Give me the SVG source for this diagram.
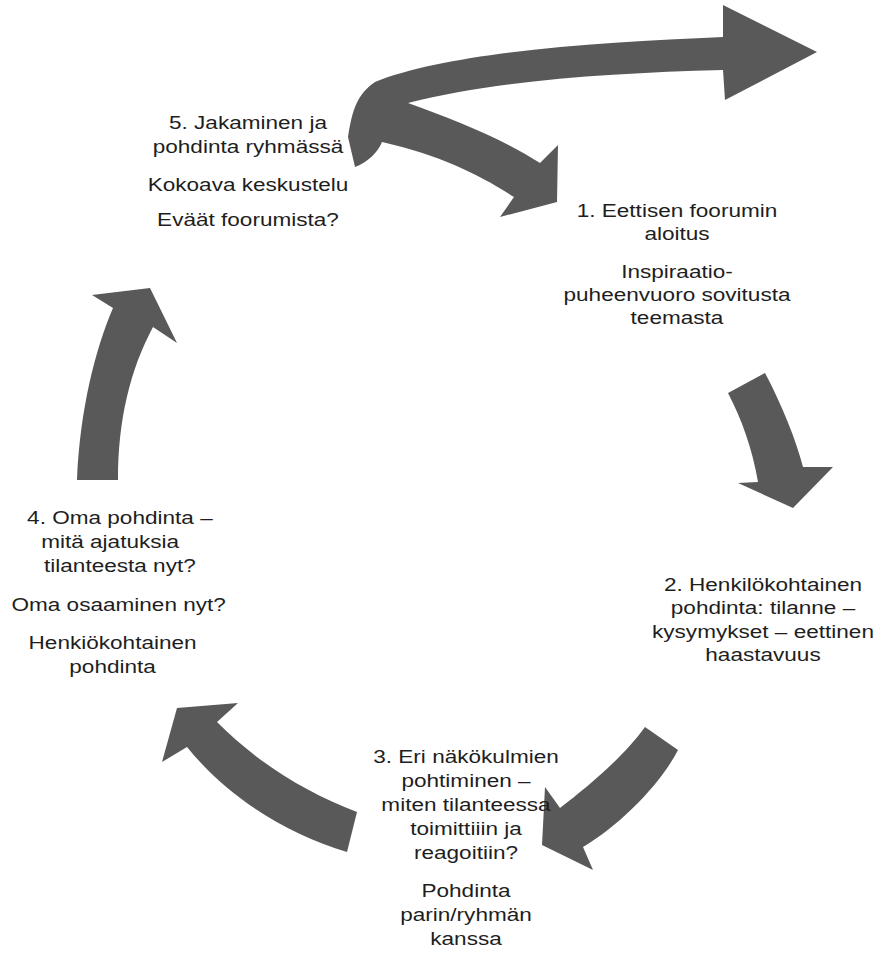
<svg xmlns="http://www.w3.org/2000/svg" width="874" height="961" viewBox="0 0 874 961">
<style>
.arrow{fill:#595959;stroke:none}
text{font-family:"Liberation Sans",Arial,sans-serif;font-size:18.5px;fill:#1e1e1e;text-anchor:middle}
</style>
<rect width="874" height="961" fill="#ffffff"/>
<g id="connectors">
<path class="arrow" d="M355,167 L348,137 C352,112 356,95 375,82 C450,52 600,42 723,37 L723,5 L817,52 L725,100 L723,70 C610,73 500,80 408,103 C455,120 505,140 540,163 L558,145 L557,202 L500,217 L514,197 C480,175 440,155 382,142 C378,152 368,162 355,167 Z"/>
<path class="arrow" d="M728,393 L765,373 C782,405 796,440 803,467 L833,467 L793,508 L738,483 L758,482 C752,448 742,420 728,393 Z"/>
<path class="arrow" d="M645,727 L678,750 C660,785 620,825 583,847 L593,870 L542,845 L545,787 L560,808 C590,785 625,755 645,727 Z"/>
<path class="arrow" d="M357,812 L347,852 C290,835 230,800 187,747 L162,762 L177,708 L238,703 L217,722 C255,760 300,790 357,812 Z"/>
<path class="arrow" d="M77,480 L118,480 C118,420 130,370 153,327 L177,343 L150,288 L92,295 L113,308 C95,350 80,410 77,480 Z"/>
</g>
<g id="node1" transform="translate(677 0) scale(1.22 1)">
<text x="0" y="217">1. Eettisen foorumin</text>
<text x="0" y="240">aloitus</text>
<text x="0" y="278">Inspiraatio-</text>
<text x="0" y="301">puheenvuoro sovitusta</text>
<text x="0" y="324">teemasta</text>
</g>
<g id="node2" transform="translate(763 0) scale(1.22 1)">
<text x="0" y="591">2. Henkilökohtainen</text>
<text x="0" y="614">pohdinta: tilanne –</text>
<text x="0" y="638">kysymykset – eettinen</text>
<text x="0" y="661">haastavuus</text>
</g>
<g id="node3" transform="translate(466 0) scale(1.22 1)">
<text x="0" y="763">3. Eri näkökulmien</text>
<text x="0" y="787">pohtiminen –</text>
<text x="0" y="811">miten tilanteessa</text>
<text x="0" y="835">toimittiiin ja</text>
<text x="0" y="859">reagoitiin?</text>
<text x="0" y="897">Pohdinta</text>
<text x="0" y="921">parin/ryhmän</text>
<text x="0" y="945">kanssa</text>
</g>
<g id="node4" transform="translate(115 0) scale(1.22 1)">
<text x="4" y="524">4. Oma pohdinta –</text>
<text x="-4" y="548">mitä ajatuksia</text>
<text x="4" y="572">tilanteesta nyt?</text>
<text x="3" y="611">Oma osaaminen nyt?</text>
<text x="-2" y="649">Henkiökohtainen</text>
<text x="-2" y="673">pohdinta</text>
</g>
<g id="node5" transform="translate(248 0) scale(1.22 1)">
<text x="0" y="129">5. Jakaminen ja</text>
<text x="0" y="153">pohdinta ryhmässä</text>
<text x="0" y="191">Kokoava keskustelu</text>
<text x="0" y="226">Eväät foorumista?</text>
</g>
</svg>
